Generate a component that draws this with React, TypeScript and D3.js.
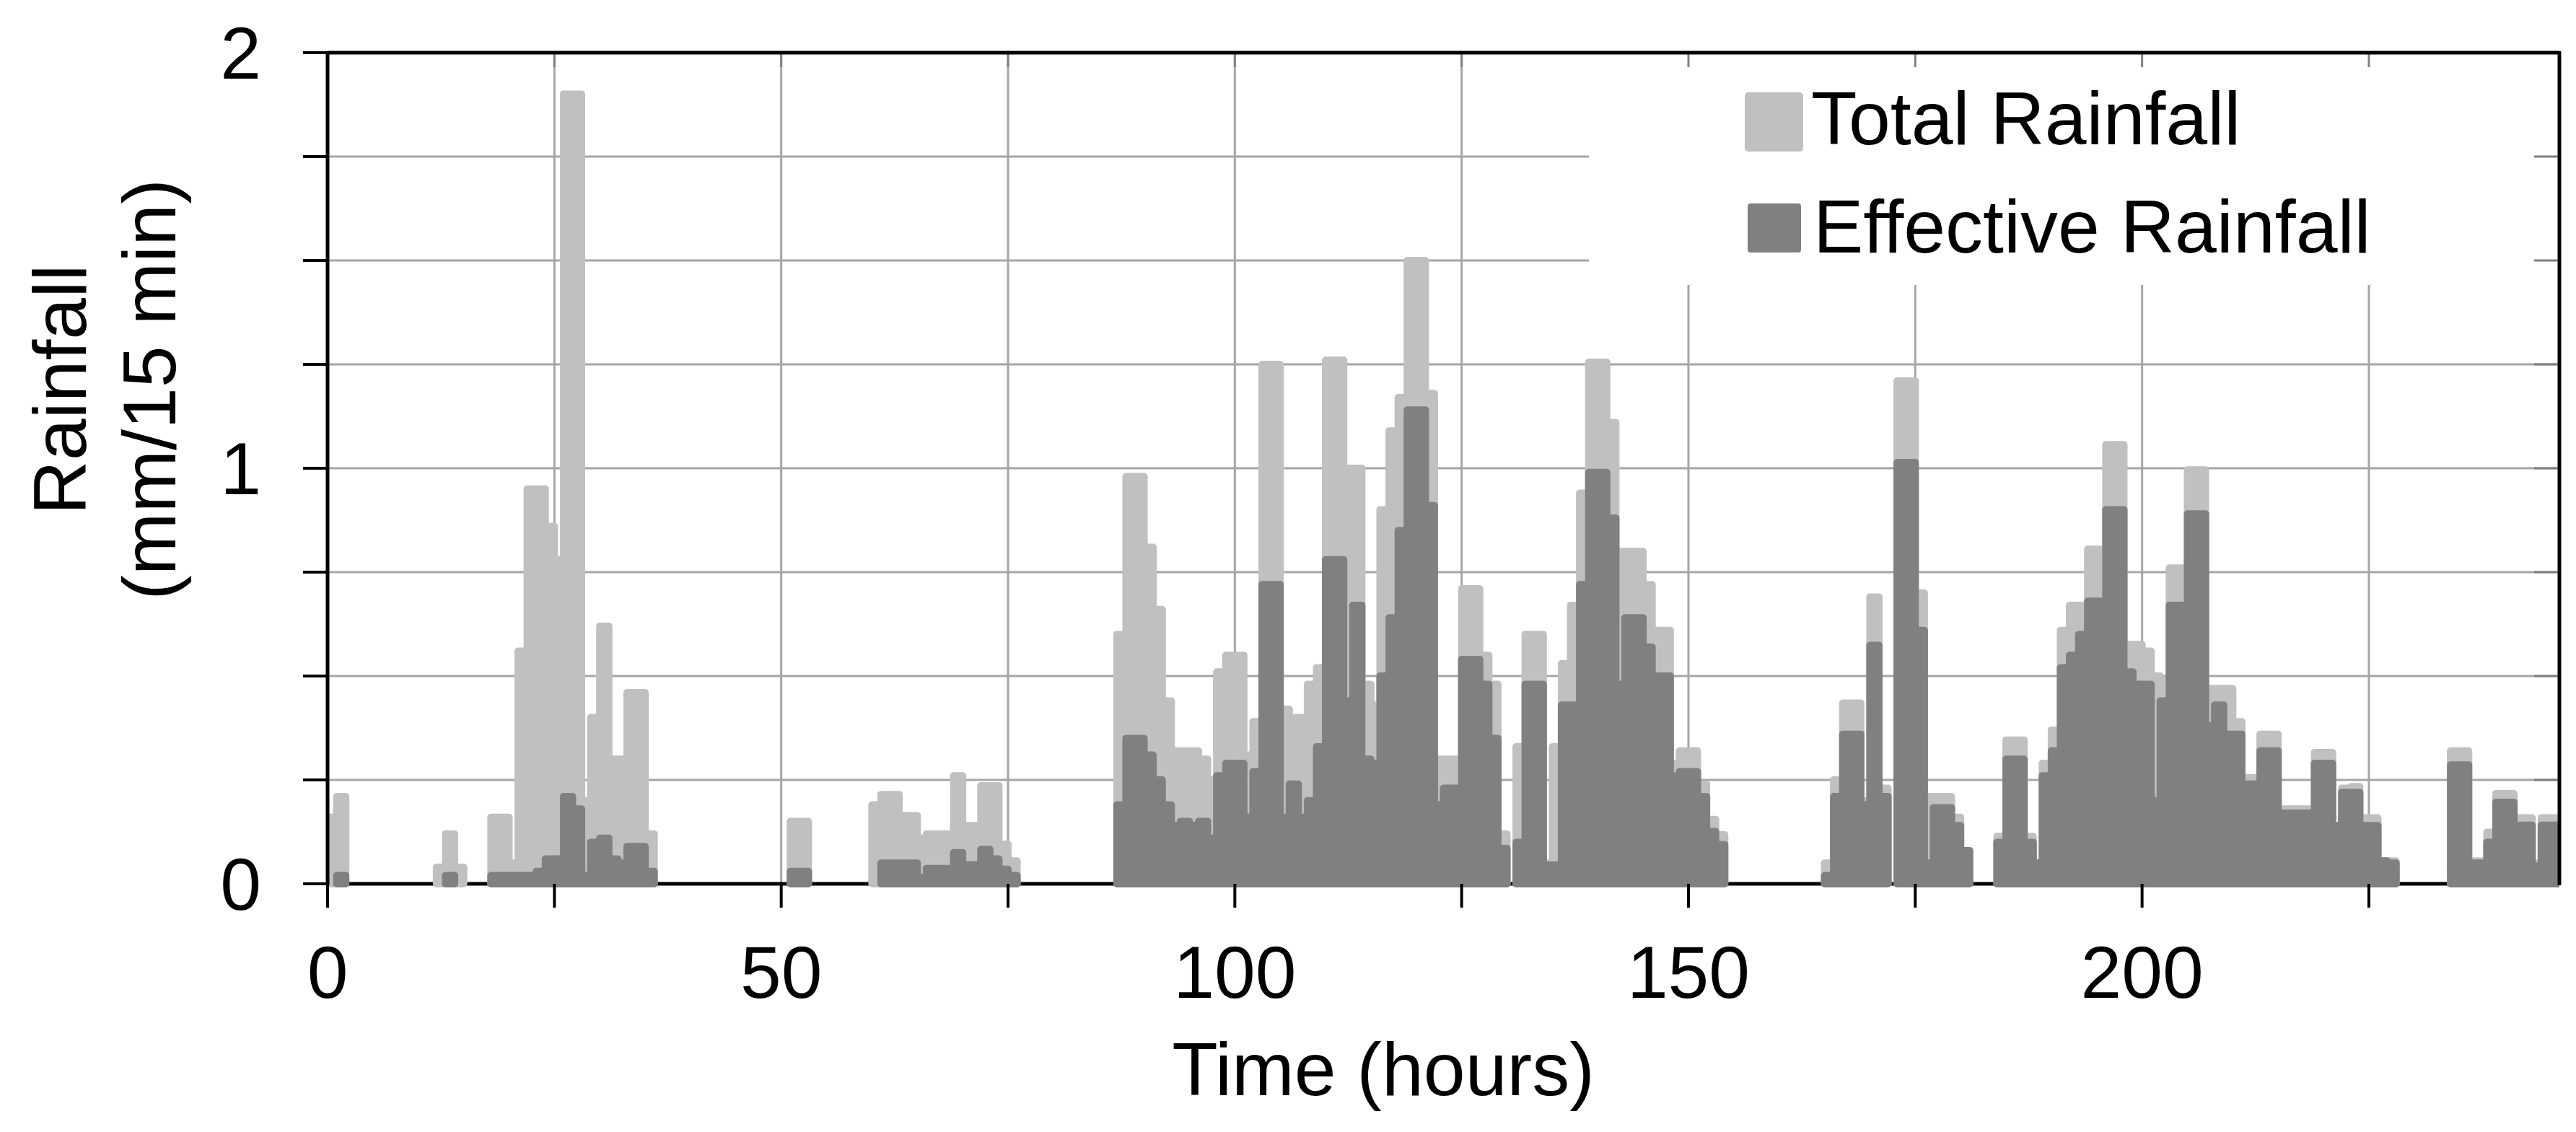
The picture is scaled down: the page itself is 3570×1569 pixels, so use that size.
import React from "react";
import * as d3 from "d3";

// hourly rainfall (mm/15 min), hour 0 .. 245
const totalRainfall = [
  0.16, 0.21, 0, 0, 0, 0, 0, 0, 0, 0,
  0, 0, 0.04, 0.12, 0.04, 0, 0, 0, 0.16, 0.16,
  0.05, 0.56, 0.95, 0.95, 0.86, 0.78, 1.9, 1.9, 0.2, 0.4,
  0.62, 0.3, 0.3, 0.46, 0.46, 0.12, 0, 0, 0, 0,
  0, 0, 0, 0, 0, 0, 0, 0, 0, 0,
  0, 0.15, 0.15, 0, 0, 0, 0, 0, 0, 0,
  0.19, 0.215, 0.215, 0.164, 0.164, 0.11, 0.12, 0.12, 0.12, 0.26,
  0.14, 0.14, 0.236, 0.236, 0.095, 0.055, 0, 0, 0, 0,
  0, 0, 0, 0, 0, 0, 0, 0.6, 0.98, 0.98,
  0.81, 0.66, 0.44, 0.32, 0.32, 0.32, 0.3, 0.25, 0.51, 0.55,
  0.55, 0.31, 0.39, 1.25, 1.25, 0.42, 0.4, 0.4, 0.48, 0.52,
  1.26, 1.26, 1.0, 1.0, 0.48, 0.43, 0.9, 1.09, 1.17, 1.5,
  1.5, 1.18, 0.3, 0.3, 0.3, 0.71, 0.71, 0.55, 0.48, 0.12,
  0, 0.33, 0.6, 0.6, 0.05, 0.33, 0.53, 0.67, 0.94, 1.255,
  1.255, 1.11, 0.8, 0.8, 0.8, 0.72, 0.61, 0.61, 0.29, 0.32,
  0.32, 0.24, 0.155, 0.118, 0, 0, 0, 0, 0, 0,
  0, 0, 0, 0, 0, 0.05, 0.25, 0.435, 0.435, 0.2,
  0.69, 0.23, 0, 1.21, 1.21, 0.7, 0.21, 0.21, 0.21, 0.16,
  0.08, 0, 0, 0, 0.114, 0.346, 0.346, 0.114, 0.05, 0.29,
  0.37, 0.61, 0.67, 0.67, 0.805, 0.805, 1.057, 1.057, 0.576, 0.576,
  0.56, 0.5, 0.49, 0.76, 0.76, 0.996, 0.996, 0.47, 0.47, 0.47,
  0.39, 0.255, 0.255, 0.36, 0.36, 0.18, 0.18, 0.18, 0.18, 0.316,
  0.316, 0.14, 0.23, 0.234, 0.159, 0.159, 0.055, 0.055, 0, 0,
  0, 0, 0, 0, 0.32, 0.32, 0.055, 0.055, 0.124, 0.217,
  0.217, 0.159, 0.159, 0.05, 0.159, 0.159,
];

const effectiveRainfall = [
  0, 0.02, 0, 0, 0, 0, 0, 0, 0, 0,
  0, 0, 0, 0.02, 0, 0, 0, 0, 0.02, 0.02,
  0.02, 0.02, 0.02, 0.03, 0.06, 0.06, 0.21, 0.18, 0.02, 0.1,
  0.11, 0.06, 0.05, 0.09, 0.09, 0.03, 0, 0, 0, 0,
  0, 0, 0, 0, 0, 0, 0, 0, 0, 0,
  0, 0.03, 0.03, 0, 0, 0, 0, 0, 0, 0,
  0, 0.05, 0.05, 0.05, 0.05, 0.015, 0.037, 0.037, 0.037, 0.075,
  0.046, 0.046, 0.083, 0.06, 0.035, 0.02, 0, 0, 0, 0,
  0, 0, 0, 0, 0, 0, 0, 0.19, 0.35, 0.35,
  0.31, 0.25, 0.19, 0.14, 0.15, 0.14, 0.15, 0.11, 0.26, 0.29,
  0.29, 0.16, 0.27, 0.72, 0.72, 0.16, 0.24, 0.16, 0.2, 0.33,
  0.78, 0.78, 0.44, 0.67, 0.3, 0.29, 0.5, 0.64, 0.85, 1.14,
  1.14, 0.91, 0.19, 0.23, 0.23, 0.54, 0.54, 0.48, 0.35, 0.085,
  0, 0.1, 0.48, 0.48, 0.045, 0.045, 0.43, 0.43, 0.72, 0.99,
  0.99, 0.88, 0.48, 0.64, 0.64, 0.57, 0.5, 0.5, 0.26, 0.27,
  0.27, 0.21, 0.126, 0.094, 0, 0, 0, 0, 0, 0,
  0, 0, 0, 0, 0, 0.02, 0.21, 0.36, 0.36, 0.19,
  0.574, 0.21, 0, 1.014, 1.014, 0.61, 0.05, 0.183, 0.183, 0.14,
  0.08, 0, 0, 0, 0.1, 0.3, 0.3, 0.1, 0.05, 0.26,
  0.32, 0.52, 0.55, 0.6, 0.68, 0.68, 0.9, 0.9, 0.51, 0.48,
  0.48, 0.2, 0.44, 0.67, 0.67, 0.89, 0.89, 0.38, 0.43, 0.36,
  0.36, 0.24, 0.24, 0.32, 0.32, 0.17, 0.17, 0.17, 0.17, 0.29,
  0.29, 0.14, 0.22, 0.22, 0.14, 0.14, 0.055, 0.05, 0, 0,
  0, 0, 0, 0, 0.286, 0.286, 0.05, 0.05, 0.1, 0.196,
  0.196, 0.141, 0.141, 0.043, 0.141, 0.141,
];

const xGridTicks = [25, 50, 75, 100, 125, 150, 175, 200, 225];
const xTickMarks = [0, 25, 50, 75, 100, 125, 150, 175, 200, 225];
const xTickLabels = [0, 50, 100, 150, 200];
const yTickMarks = [0, 0.25, 0.5, 0.75, 1, 1.25, 1.5, 1.75, 2];
const yGridTicks = [0.25, 0.5, 0.75, 1, 1.25, 1.5, 1.75];
const yTickLabels = [0, 1, 2];

const series = [
  { name: "Total Rainfall", values: totalRainfall, color: "#c0c0c0" },
  { name: "Effective Rainfall", values: effectiveRainfall, color: "#808080" },
];

const W = 3570;
const H = 1569;
const FONT = "'Liberation Sans', Arial, sans-serif";

type Pt = { h: number; v: number };

// split a series into runs of non-zero values, each closed with an end point
function runsOf(values: number[]): Pt[][] {
  const out: Pt[][] = [];
  let cur: Pt[] | null = null;
  values.forEach((v, i) => {
    if (v > 0) {
      if (!cur) {
        cur = [];
        out.push(cur);
      }
      cur.push({ h: i, v });
    } else if (cur) {
      cur.push({ h: i, v: cur[cur.length - 1].v });
      cur = null;
    }
  });
  if (cur) {
    const c = cur as Pt[];
    c.push({ h: values.length, v: c[c.length - 1].v });
  }
  return out;
}

export default function App() {
  const x = d3.scaleLinear().domain([0, 246]).range([454, 3547]);
  const y = d3.scaleLinear().domain([0, 2]).range([1225, 73]);
  const [x0, x1] = x.range();
  const [yb, yt] = y.range();

  const area = d3
    .area<Pt>()
    .x((d) => x(d.h))
    .y0(y(0))
    .y1((d) => y(d.v))
    .curve(d3.curveStepAfter);

  const legend = { x: 2202, y: yt, w: x1 - 2202, h: 322 };

  return (
    <svg
      width={W}
      height={H}
      style={{ position: "absolute", left: 0, top: 0, background: "#fff" }}
      fontFamily={FONT}
    >
      <defs>
        <clipPath id="plotClip">
          <rect x={x0} y={0} width={x1 - x0} height={yb + 8} />
        </clipPath>
      </defs>
      <rect width={W} height={H} fill="#fff" />

      {/* grid */}
      <g stroke="#a6a6a6" strokeWidth={3}>
        {yGridTicks.map((t) => (
          <line key={"gy" + t} x1={x0} x2={x1} y1={y(t)} y2={y(t)} />
        ))}
        {xGridTicks.map((t) => (
          <line key={"gx" + t} x1={x(t)} x2={x(t)} y1={yt} y2={yb} />
        ))}
      </g>

      {/* legend background */}
      <rect x={legend.x} y={legend.y} width={legend.w} height={legend.h} fill="#fff" />
      {/* inner ticks on top / right */}
      <g stroke="#808080" strokeWidth={3}>
        {xGridTicks.map((t) => (
          <line key={"tt" + t} x1={x(t)} x2={x(t)} y1={yt} y2={yt + 20} />
        ))}
        {yGridTicks.map((t) => (
          <line key={"rt" + t} x1={x1 - 35} x2={x1} y1={y(t)} y2={y(t)} />
        ))}
      </g>

      {/* baseline */}
      <line x1={x0} x2={x1} y1={yb} y2={yb} stroke="#000" strokeWidth={5} />

      {/* bars */}
      <g clipPath="url(#plotClip)">
        {series.map((s) =>
          runsOf(s.values).map((run, i) => (
            <path
              key={s.name + i}
              d={area(run) ?? ""}
              fill={s.color}
              stroke={s.color}
              strokeWidth={10}
              strokeLinejoin="round"
            />
          ))
        )}
      </g>

      {/* frame */}
      <g stroke="#000" strokeWidth={5} fill="none">
        <line x1={x0} x2={x0} y1={yt - 2} y2={yb + 2} />
        <line x1={x0} x2={x1} y1={yt} y2={yt} />
        <line x1={x1} x2={x1} y1={yt - 2} y2={yb + 2} />
      </g>

      {/* y axis ticks & labels */}
      <g stroke="#000" strokeWidth={4}>
        {yTickMarks.map((t) => (
          <line key={"yt" + t} x1={x0 - 34} x2={x0} y1={y(t)} y2={y(t)} />
        ))}
        {xTickMarks.map((t) => (
          <line key={"xt" + t} x1={x(t)} x2={x(t)} y1={yb} y2={yb + 33} />
        ))}
      </g>
      <g fontSize={102} fill="#000">
        {yTickLabels.map((t) => (
          <text key={"yl" + t} x={362} y={y(t) + 36} textAnchor="end">
            {t}
          </text>
        ))}
        {xTickLabels.map((t) => (
          <text key={"xl" + t} x={x(t)} y={1383} textAnchor="middle">
            {t}
          </text>
        ))}
      </g>

      {/* axis titles */}
      <text x={1917} y={1518} textAnchor="middle" fontSize={104}>
        Time (hours)
      </text>
      <g transform="translate(119,540) rotate(-90)">
        <text textAnchor="middle" fontSize={104}>
          Rainfall
        </text>
      </g>
      <g transform="translate(243,540) rotate(-90)">
        <text textAnchor="middle" fontSize={104}>
          (mm/15 min)
        </text>
      </g>

      {/* legend */}
      <rect x={2423} y={133} width={71} height={72} fill={series[0].color} stroke={series[0].color} strokeWidth={10} strokeLinejoin="round" />
      <text x={2510} y={200} fontSize={104}>
        {series[0].name}
      </text>
      <rect x={2426} y={286} width={66} height={60} fill={series[1].color} stroke={series[1].color} strokeWidth={8} strokeLinejoin="round" />
      <text x={2513} y={350} fontSize={104}>
        {series[1].name}
      </text>
    </svg>
  );
}
